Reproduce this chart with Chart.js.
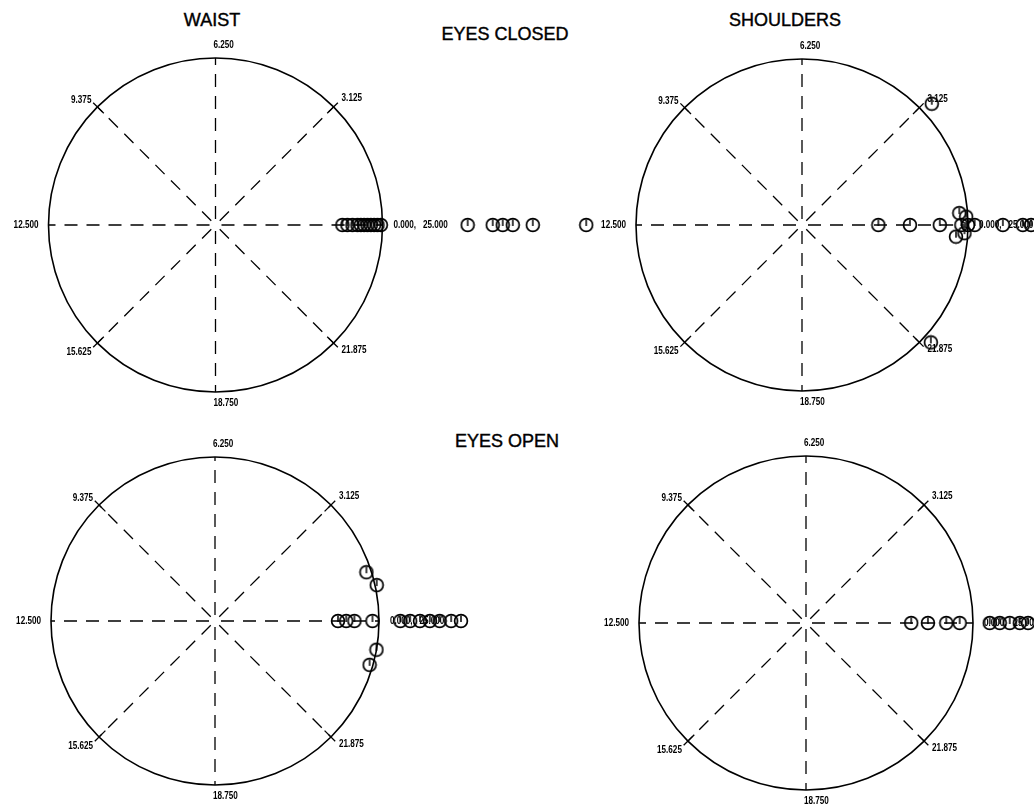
<!DOCTYPE html>
<html>
<head>
<meta charset="utf-8">
<script src="https://cdn.jsdelivr.net/npm/chart.js@4/dist/chart.umd.min.js"></script>
<style>
  html, body { margin: 0; padding: 0; background: #fff; width: 1034px; height: 804px; overflow: hidden; }
  canvas { position: absolute; left: 0; top: 0; }
  .title {
    position: absolute; transform: translateX(-50%); white-space: nowrap;
    font-family: "Liberation Sans", Arial, sans-serif; font-size: 18px; line-height: 1;
    color: #000; -webkit-text-stroke: 0.4px #000;
  }
</style>
</head>
<body>
<div class="title" style="left:212px; top:11px;">WAIST</div>
<div class="title" style="left:785px; top:11px;">SHOULDERS</div>
<div class="title" style="left:505px; top:25px;">EYES CLOSED</div>
<div class="title" style="left:507px; top:432px;">EYES OPEN</div>
<canvas id="waistClosed" width="1034" height="804"></canvas>
<canvas id="shouldersClosed" width="1034" height="804"></canvas>
<canvas id="waistOpen" width="1034" height="804"></canvas>
<canvas id="shouldersOpen" width="1034" height="804"></canvas>
<script>
// Phase runs over one period of 25 units, counter-clockwise from the right.
const PERIOD = 25;
const angleLabels = ['0.000,\u00a0\u00a0 25.000', '3.125', '6.250', '9.375', '12.500', '15.625', '18.750', '21.875'];

// Waist, eyes closed
const waistClosedPhase = [0, 0, 0, 0, 0, 0, 0, 0, 0, 0, 0, 0, 0, 0, 0, 0, 0];
const waistClosedAmp   = [0.76, 0.79, 0.82, 0.85, 0.87, 0.89, 0.91, 0.93, 0.95, 0.97, 0.99,
                          1.51, 1.66, 1.72, 1.78, 1.90, 2.22];

// Shoulders, eyes closed
const shouldersClosedPhase = [0, 0, 0, 24.7, 0.3, 0, 24.8, 0.2, 0, 0, 0, 0, 0, 2.99, 22.06];
const shouldersClosedAmp   = [0.46, 0.65, 0.83, 0.93, 0.95, 0.96, 0.98, 0.99, 1.00, 1.04, 1.21, 1.33, 1.38, 1.07, 1.05];

// Waist, eyes open
const waistOpenPhase = [0, 0, 0, 0, 1.24, 0.87, 24.3, 23.9, 0, 0, 0, 0, 0, 0, 0];
const waistOpenAmp   = [0.75, 0.80, 0.85, 0.96, 0.97, 1.01, 1.00, 0.98, 1.13, 1.19, 1.25, 1.31, 1.37, 1.44, 1.50];

// Shoulders, eyes open
const shouldersOpenPhase = [0, 0, 0, 0, 0, 0, 0, 0, 0];
const shouldersOpenAmp   = [0.63, 0.73, 0.84, 0.92, 1.10, 1.16, 1.22, 1.28, 1.33];

// Page layout of each polar panel: centre and unit radius in pixels
const panels = [
  { id: 'waistClosed',     cx: 215.5, cy: 225, r: 167, phase: waistClosedPhase,     amp: waistClosedAmp },
  { id: 'shouldersClosed', cx: 802,   cy: 225, r: 166, phase: shouldersClosedPhase, amp: shouldersClosedAmp },
  { id: 'waistOpen',       cx: 215,   cy: 621, r: 164, phase: waistOpenPhase,       amp: waistOpenAmp },
  { id: 'shouldersOpen',   cx: 806,   cy: 623, r: 167, phase: shouldersOpenPhase,   amp: shouldersOpenAmp }
];

function toXY(phase, amp) {
  return phase.map((p, i) => {
    const a = 2 * Math.PI * p / PERIOD;
    return { x: amp[i] * Math.cos(a), y: amp[i] * Math.sin(a) };
  });
}

// Open circle with a short hand, used as the point symbol
function makeMarker() {
  const c = document.createElement('canvas');
  c.width = 16; c.height = 16;
  const g = c.getContext('2d');
  g.strokeStyle = '#000';
  g.lineWidth = 1.7;
  g.beginPath(); g.arc(8, 8, 6.4, 0, Math.PI * 2); g.stroke();
  g.lineWidth = 1.5;
  g.beginPath(); g.moveTo(8, 9); g.lineTo(8, 2.5); g.stroke();
  return c;
}
const marker = makeMarker();

const LABEL_FONT = 'bold 11px "Liberation Sans", Arial, sans-serif';
const LABEL_SQUEEZE = 0.74;

function squeezedText(ctx, text, x, y, align) {
  ctx.save();
  ctx.translate(x, y);
  ctx.scale(LABEL_SQUEEZE, 1);
  ctx.textAlign = align;
  ctx.fillText(text, 0, 0);
  ctx.restore();
}

// Unit circle, dashed spokes, rim ticks and phase labels
const polarFrame = {
  id: 'polarFrame',
  beforeDatasetsDraw(chart) {
    const { ctx, scales: { x, y } } = chart;
    const cx = x.getPixelForValue(0), cy = y.getPixelForValue(0);
    const R = x.getPixelForValue(1) - cx;
    ctx.save();
    ctx.strokeStyle = '#000';
    ctx.lineWidth = 1.6;
    ctx.beginPath(); ctx.arc(cx, cy, R, 0, Math.PI * 2); ctx.stroke();

    ctx.lineWidth = 1.3;
    ctx.setLineDash([13, 9]);
    for (let k = 0; k < 8; k++) {
      const a = k * Math.PI / 4;
      const ux = Math.cos(a), uy = -Math.sin(a);
      ctx.beginPath();
      ctx.moveTo(cx + ux * 6, cy + uy * 6);
      ctx.lineTo(cx + ux * R, cy + uy * R);
      ctx.stroke();
    }
    ctx.setLineDash([]);
    for (let k = 1; k < 8; k += 2) {
      const a = k * Math.PI / 4;
      const ux = Math.cos(a), uy = -Math.sin(a);
      ctx.beginPath();
      ctx.moveTo(cx + ux * (R - 9), cy + uy * (R - 9));
      ctx.lineTo(cx + ux * (R + 6), cy + uy * (R + 6));
      ctx.stroke();
    }

    ctx.fillStyle = '#000';
    ctx.strokeStyle = '#000';
    ctx.font = LABEL_FONT;
    ctx.textBaseline = 'middle';
    const d = R * Math.SQRT1_2;
    const spots = [
      [cx + R + 11, cy, 'left'],
      [cx + d + 8, cy - d - 9, 'left'],
      [cx - 2, cy - R - 13, 'left'],
      [cx - d - 6, cy - d - 7, 'right'],
      [cx - R - 10, cy, 'right'],
      [cx - d - 6, cy + d + 9, 'right'],
      [cx - 2, cy + R + 11, 'left'],
      [cx + d + 8, cy + d + 7, 'left']
    ];
    spots.forEach(([tx, ty, align], k) => squeezedText(ctx, angleLabels[k], tx, ty, align));
    ctx.restore();
  }
};

panels.forEach(p => {
  const W = 1034, H = 804;
  new Chart(document.getElementById(p.id), {
    type: 'scatter',
    data: {
      datasets: [{
        data: toXY(p.phase, p.amp),
        pointStyle: marker,
        pointRadius: 6,
        clip: false
      }]
    },
    options: {
      responsive: false,
      animation: false,
      events: [],
      layout: { autoPadding: false, padding: 0 },
      plugins: { legend: { display: false }, tooltip: { enabled: false } },
      scales: {
        x: { type: 'linear', display: false, min: -p.cx / p.r, max: (W - p.cx) / p.r },
        y: { type: 'linear', display: false, min: -(H - p.cy) / p.r, max: p.cy / p.r }
      }
    },
    plugins: [polarFrame]
  });
});
</script>
</body>
</html>
